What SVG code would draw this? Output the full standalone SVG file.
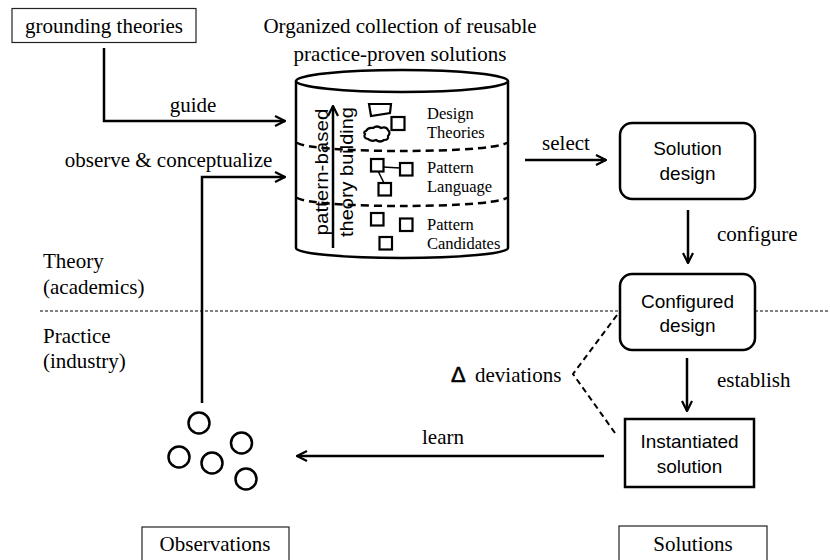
<svg xmlns="http://www.w3.org/2000/svg" width="830" height="560" viewBox="0 0 830 560">
<defs>
<style>
.serif{font-family:"Liberation Serif","Times New Roman",serif;fill:#000}
.lbl{font-size:21px}
.sm{font-size:16.5px}
.sans{font-family:"Liberation Sans",Arial,sans-serif;fill:#000}
.box{font-size:19px}
.ln{fill:none;stroke:#000;stroke-width:2.5}
.thin{fill:#fff;stroke:#222;stroke-width:1.2}
.node{fill:#fff;stroke:#000;stroke-width:2.5}
.dash{fill:none;stroke:#000;stroke-width:2;stroke-dasharray:6,4}
.sq{fill:#fff;stroke:#000;stroke-width:2.2}
</style>
<marker id="ah" viewBox="0 0 12 12" refX="11" refY="6" markerWidth="12" markerHeight="12" markerUnits="userSpaceOnUse" orient="auto">
<path d="M1,1 L11,6 L1,11" fill="none" stroke="#000" stroke-width="2.2"/>
</marker>
</defs>
<rect width="830" height="560" fill="#fff"/>

<line x1="40" y1="311" x2="830" y2="311" stroke="#000" stroke-width="1" stroke-dasharray="3,2"/>

<g id="grounding">
<rect class="thin" x="12" y="8.5" width="184" height="34"/>
<text class="serif lbl" x="104" y="33" text-anchor="middle">grounding theories</text>
</g>

<g id="collection">
<text class="serif lbl" x="400" y="33" text-anchor="middle">Organized collection of reusable</text>
<text class="serif lbl" x="400" y="61" text-anchor="middle">practice-proven solutions</text>
<path class="node" d="M296,81 V248 A106,10 0 0 0 508,248 V81"/>
<ellipse class="node" cx="402" cy="81" rx="106" ry="11"/>
<path d="M297,142 A105,9 0 0 0 507,142" fill="none" stroke="#000" stroke-width="2.5" stroke-dasharray="8,5"/>
<path d="M297,197 A105,9 0 0 0 507,197" fill="none" stroke="#000" stroke-width="2.5" stroke-dasharray="8,5"/>
<text class="sans" font-size="18" transform="translate(327.5,172) rotate(-90)" text-anchor="middle" textLength="127" lengthAdjust="spacingAndGlyphs">pattern-based</text>
<text class="sans" font-size="18" transform="translate(353,172) rotate(-90)" text-anchor="middle" textLength="130" lengthAdjust="spacingAndGlyphs">theory building</text>
<path class="ln" d="M333,248 V106" marker-end="url(#ah)"/>
<path class="sq" d="M369,104 L391,104 L390,113 L371,116 Z"/>
<rect class="sq" x="391.5" y="117" width="13" height="13"/>
<path class="sq" d="M366,131 Q368,127 373,128 Q377,125 381,128 Q386,126 388,130 Q391,133 388,136 Q389,140 384,140 Q380,143 376,140 Q371,142 368,139 Q363,138 365,134 Q363,132 366,131 Z"/>
<text class="serif sm" x="427" y="119">Design</text>
<text class="serif sm" x="427" y="138">Theories</text>
<line x1="383" y1="167" x2="400" y2="168" stroke="#000" stroke-width="1.5"/>
<line x1="378" y1="171" x2="384" y2="183" stroke="#000" stroke-width="1.5"/>
<rect class="sq" x="371" y="159" width="12.5" height="12.5"/>
<rect class="sq" x="400" y="163" width="12.5" height="12.5"/>
<rect class="sq" x="378.5" y="183" width="12.5" height="12.5"/>
<text class="serif sm" x="427" y="173">Pattern</text>
<text class="serif sm" x="427" y="192">Language</text>
<rect class="sq" x="371" y="213" width="12.5" height="12.5"/>
<rect class="sq" x="400" y="218.5" width="12.5" height="12.5"/>
<rect class="sq" x="379.5" y="237" width="12.5" height="12.5"/>
<text class="serif sm" x="427" y="230">Pattern</text>
<text class="serif sm" x="427" y="249">Candidates</text>
</g>

<g id="connectors">
<path class="ln" d="M104,48 V121 H285" marker-end="url(#ah)"/>
<path class="ln" d="M202,403 V177 H285" marker-end="url(#ah)"/>
<path class="ln" d="M525,160 H606" marker-end="url(#ah)"/>
<path class="ln" d="M688,210 V263" marker-end="url(#ah)"/>
<path class="ln" d="M687,358 V411" marker-end="url(#ah)"/>
<path class="ln" d="M604,456 H297" marker-end="url(#ah)"/>
<path class="dash" d="M617,315 L573,374 L615,433"/>
<text class="serif lbl" x="193" y="112" text-anchor="middle">guide</text>
<text class="serif lbl" x="168.5" y="167" text-anchor="middle">observe &amp; conceptualize</text>
<text class="serif lbl" x="566" y="150" text-anchor="middle">select</text>
<text class="serif lbl" x="717" y="241">configure</text>
<text class="serif lbl" x="717" y="387">establish</text>
<text class="serif lbl" x="443" y="444" text-anchor="middle">learn</text>
<text class="sans" font-size="22" x="451" y="382" stroke="#000" stroke-width="0.6">Δ</text>
<text class="serif lbl" x="475" y="382">deviations</text>
</g>

<g id="solution-design">
<rect class="node" x="620" y="123" width="135" height="76" rx="12"/>
<text class="sans box" x="687.5" y="155" text-anchor="middle">Solution</text>
<text class="sans box" x="687.5" y="180" text-anchor="middle">design</text>
</g>

<g id="configured-design">
<rect class="node" x="620" y="274" width="135" height="76" rx="12"/>
<text class="sans box" x="687.5" y="308" text-anchor="middle">Configured</text>
<text class="sans box" x="687.5" y="332" text-anchor="middle">design</text>
</g>

<g id="instantiated-solution">
<rect class="node" x="625" y="419" width="129" height="68"/>
<text class="sans box" x="689.5" y="448" text-anchor="middle">Instantiated</text>
<text class="sans box" x="689.5" y="473" text-anchor="middle">solution</text>
</g>

<g id="observation-dots">
<circle class="node" cx="199" cy="423" r="10.5"/>
<circle class="node" cx="241.5" cy="443" r="10.5"/>
<circle class="node" cx="179" cy="457" r="10.5"/>
<circle class="node" cx="212" cy="463" r="10.5"/>
<circle class="node" cx="246" cy="479" r="10.5"/>
</g>

<g id="layers">
<text class="serif lbl" x="43" y="268">Theory</text>
<text class="serif lbl" x="43" y="294">(academics)</text>
<text class="serif lbl" x="43" y="343">Practice</text>
<text class="serif lbl" x="43" y="368">(industry)</text>
</g>

<g id="observations">
<rect class="thin" x="142" y="527" width="147" height="40"/>
<text class="serif lbl" x="215" y="551" text-anchor="middle">Observations</text>
</g>

<g id="solutions">
<rect class="thin" x="619" y="526" width="148" height="40"/>
<text class="serif lbl" x="693" y="551" text-anchor="middle">Solutions</text>
</g>
</svg>
